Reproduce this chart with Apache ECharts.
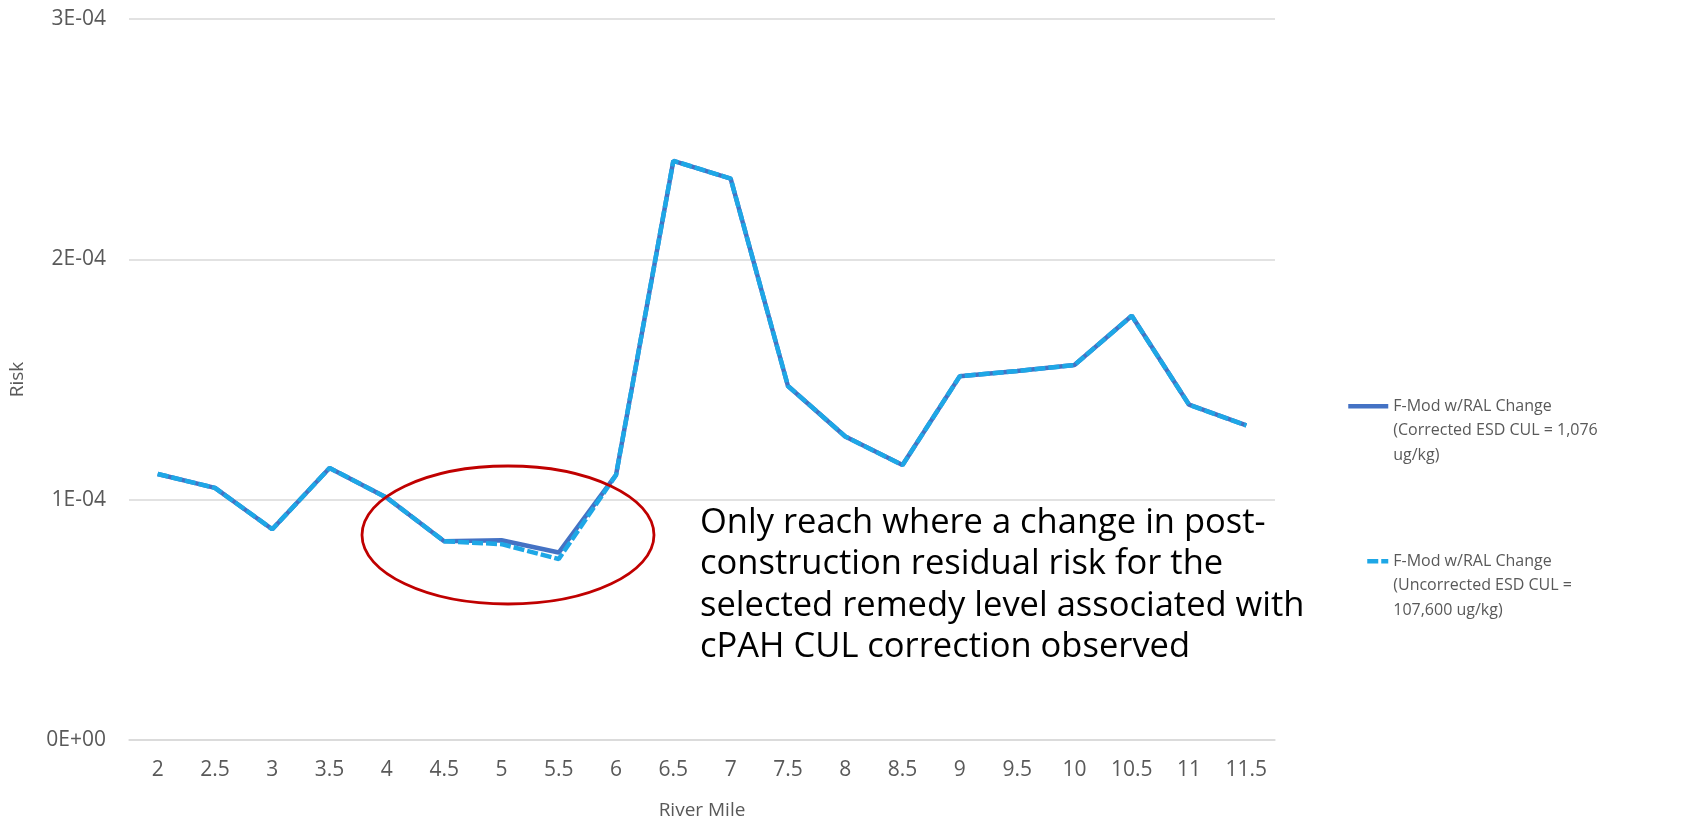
<!DOCTYPE html>
<html>
<head>
<meta charset="utf-8">
<title>Risk by River Mile</title>
<script src="https://cdn.jsdelivr.net/npm/echarts@6/dist/echarts.min.js"></script>
<style>
    html, body { margin: 0; padding: 0; background: #fff; }
    #main { width: 1684px; height: 825px; }
</style>
</head>
<body>
<div id="main"></div>
<script>
// data
var riverMile = ['2', '2.5', '3', '3.5', '4', '4.5', '5', '5.5', '6', '6.5', '7', '7.5', '8', '8.5', '9', '9.5', '10', '10.5', '11', '11.5'];
var correctedRisk = [1.107e-4, 1.049e-4, 0.877e-4, 1.132e-4, 1.008e-4, 0.827e-4, 0.831e-4, 0.780e-4, 1.103e-4, 2.41e-4, 2.336e-4, 1.473e-4, 1.263e-4, 1.144e-4, 1.514e-4, 1.535e-4, 1.56e-4, 1.765e-4, 1.395e-4, 1.309e-4];
var uncorrectedRisk = [1.107e-4, 1.049e-4, 0.877e-4, 1.132e-4, 1.008e-4, 0.827e-4, 0.815e-4, 0.753e-4, 1.103e-4, 2.41e-4, 2.336e-4, 1.473e-4, 1.263e-4, 1.144e-4, 1.514e-4, 1.535e-4, 1.56e-4, 1.765e-4, 1.395e-4, 1.309e-4];
var yTicks = ['0E+00', '1E-04', '2E-04', '3E-04'];

var name1 = 'F-Mod w/RAL Change (Corrected ESD CUL = 1,076 ug/kg)';
var name2 = 'F-Mod w/RAL Change (Uncorrected ESD CUL = 107,600 ug/kg)';
// two blank lines on top so the icon sits next to the first line
var legendText = {};
legendText[name1] = '\n\nF-Mod w/RAL Change\n(Corrected ESD CUL = 1,076\nug/kg)';
legendText[name2] = '\n\nF-Mod w/RAL Change\n(Uncorrected ESD CUL =\n107,600 ug/kg)';

var note = 'Only reach where a change in post-\nconstruction residual risk for the\nselected remedy level associated with\ncPAH CUL correction observed';

var font = '"Open Sans", sans-serif';
var grey = '#595959';

var myChart = echarts.init(document.getElementById('main'));

var legendStyle = {
    color: grey,
    fontSize: 16,
    fontFamily: font,
    lineHeight: 24.5
};

var option = {
    backgroundColor: '#fff',
    animation: false,
    grid: {
        left: 124,
        right: 409,
        top: 19,
        bottom: 77
    },
    legend: [
        {
            data: [name1],
            orient: 'vertical',
            left: 1341,
            top: 340,
            itemWidth: 40,
            itemHeight: 4,
            itemGap: 0,
            padding: 5,
            itemStyle: { opacity: 0 },
            lineStyle: { width: 4.5 },
            formatter: function (n) { return legendText[n]; },
            textStyle: legendStyle
        },
        {
            data: [name2],
            orient: 'vertical',
            left: 1360,
            top: 495,
            itemWidth: 21,
            itemHeight: 4,
            itemGap: 0,
            padding: 5,
            itemStyle: { opacity: 0 },
            lineStyle: { width: 4.5 },
            formatter: function (n) { return legendText[n]; },
            textStyle: legendStyle
        }
    ],
    xAxis: {
        type: 'category',
        data: riverMile,
        boundaryGap: true,
        name: 'River Mile',
        nameLocation: 'middle',
        nameGap: 61,
        nameTextStyle: { color: grey, fontSize: 19, fontFamily: font },
        axisLine: { show: true, lineStyle: { color: '#d9d9d9', width: 1.5 } },
        axisTick: { show: false },
        axisLabel: { color: grey, fontSize: 21, fontFamily: font, margin: 20 }
    },
    yAxis: {
        type: 'value',
        min: 0,
        max: 3e-4,
        interval: 1e-4,
        name: 'Risk',
        nameLocation: 'middle',
        nameGap: 102,
        nameRotate: 90,
        nameTextStyle: { color: grey, fontSize: 19, fontFamily: font },
        axisLine: { show: false },
        axisTick: { show: false },
        splitLine: { lineStyle: { color: '#d9d9d9', width: 1.5 } },
        axisLabel: {
            color: grey,
            fontSize: 21,
            fontFamily: font,
            margin: 23,
            formatter: function (v) { return yTicks[Math.round(v / 1e-4)]; }
        }
    },
    series: [
        {
            name: name1,
            type: 'line',
            data: correctedRisk,
            symbol: 'none',
            lineStyle: { color: '#4472c4', width: 4.5 },
            itemStyle: { color: '#4472c4' }
        },
        {
            name: name2,
            type: 'line',
            data: uncorrectedRisk,
            symbol: 'none',
            lineStyle: { color: '#1ea7e6', width: 4.5, type: [11, 3] },
            itemStyle: { color: '#1ea7e6' }
        }
    ],
    graphic: [
        {
            type: 'ellipse',
            shape: { cx: 508, cy: 535, rx: 146, ry: 69 },
            style: { fill: 'none', stroke: '#c00000', lineWidth: 2.8 },
            z: 100
        },
        {
            type: 'text',
            left: 700,
            top: 502,
            style: {
                text: note,
                fill: '#000',
                font: '34.5px ' + font,
                lineHeight: 41.5
            },
            z: 100
        }
    ]
};

myChart.setOption(option);
</script>
</body>
</html>
